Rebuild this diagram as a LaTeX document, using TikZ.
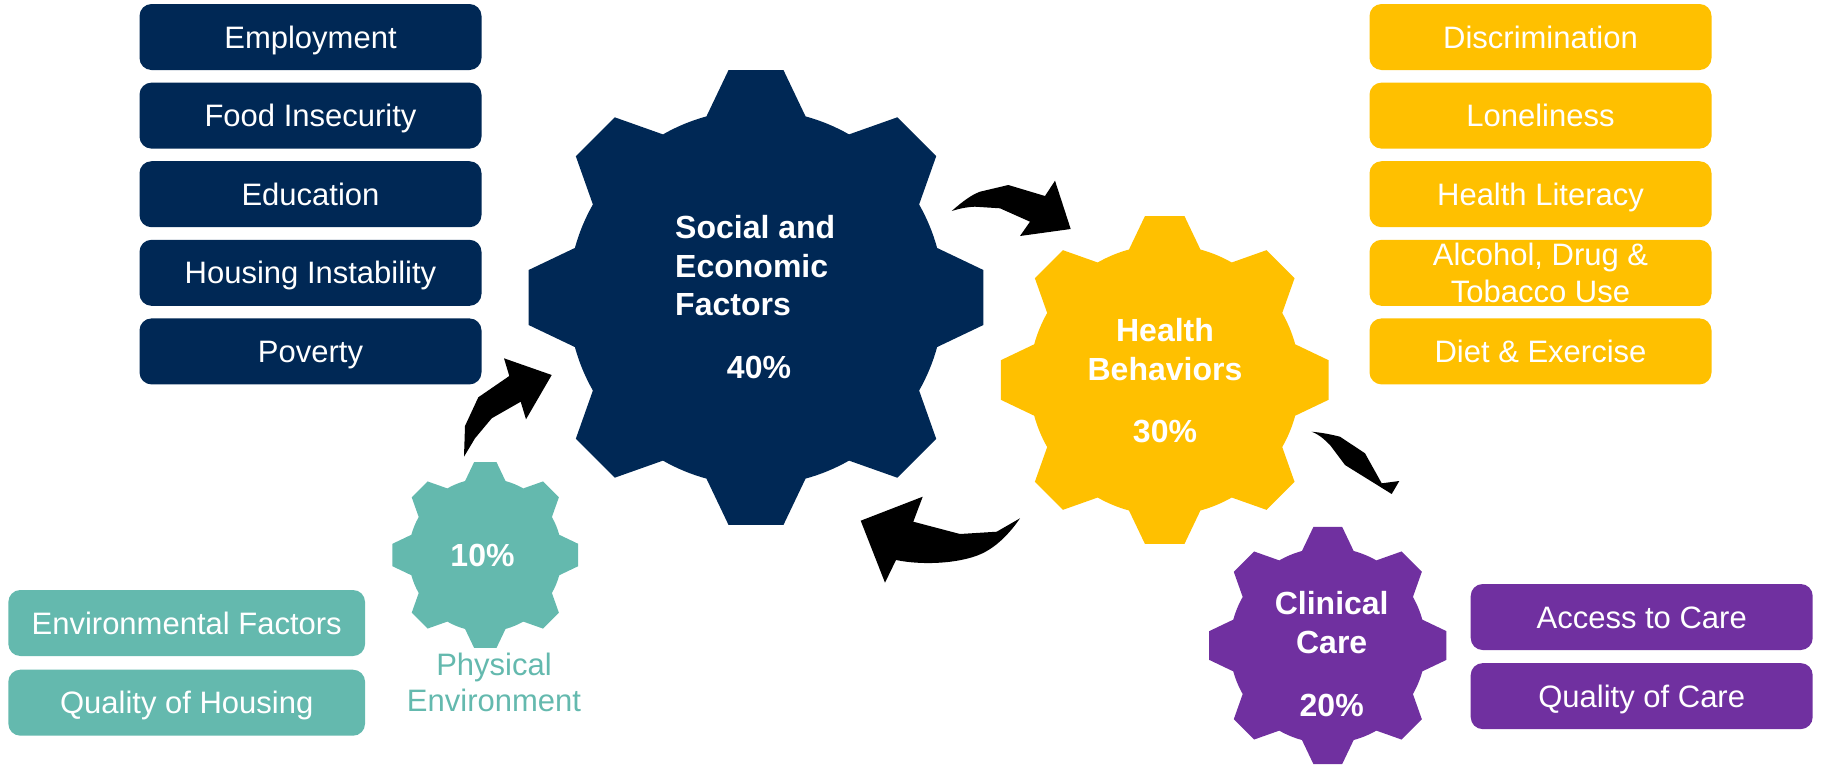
\documentclass[tikz,border=0pt]{standalone}
\usepackage{fontspec}
\setmainfont{Liberation Sans}
\usetikzlibrary{positioning}

\definecolor{sefnavy}{HTML}{002855}
\definecolor{hbgold}{HTML}{FFC000}
\definecolor{pheteal}{HTML}{64B9AE}
\definecolor{ccpurple}{HTML}{7030A0}

\tikzset{
  factor/.style={rounded corners=12pt, minimum width=342pt, minimum height=66pt,
    inner sep=0pt, text=white, align=center, text height=22pt, text depth=0pt,
    font=\fontsize{31}{36.7}\selectfont},
  geartext/.style={text=white, inner sep=0pt, font=\bfseries\fontsize{32}{38.5}\selectfont},
  bentarrow/.style={fill=black},
}

% eight-tooth cog: centre, tip radius, colour
\newcommand{\cog}[3]{%
  \pgfmathsetmacro{\rootr}{0.82*#2}
  \fill[#3, shift={(#1)}] (-15.3:\rootr)
    \foreach \a in {0,45,...,315}{
      -- (\a-15.3:\rootr) -- (\a-6.9:#2) -- (\a+6.9:#2) -- (\a+15.3:\rootr)
      arc[start angle=\a+15.3, end angle=\a+29.7, radius=\rootr]
    } -- cycle;
}

\begin{document}
\begin{tikzpicture}[x=1pt, y=-1pt]
  \useasboundingbox (0,0) rectangle (1823,764);

  % cogs
  \coordinate (soc) at (756,297.5);
  \coordinate (beh) at (1164.7,380);
  \coordinate (phy) at (485.3,555);
  \coordinate (cli) at (1327.8,645.5);
  \cog{soc}{229}{sefnavy}
  \cog{beh}{165}{hbgold}
  \cog{phy}{93.5}{pheteal}
  \cog{cli}{119.5}{ccpurple}

  % labels on the cogs (base = last line)
  \node[geartext, align=left, anchor=base west] (soctxt) at (675,315.7) {Social and\\Economic\\Factors};
  \node[geartext, anchor=base] (socpct) at (759,378.3) {40\%};
  \node[geartext, align=center, anchor=base] (behtxt) at (1165,380) {Health\\Behaviors};
  \node[geartext, anchor=base] (behpct) at (1165,442.7) {30\%};
  \node[geartext, anchor=base] (phypct) at (482.5,566.7) {10\%};
  \node[text=pheteal, inner sep=0pt, align=center, anchor=base,
        font=\fontsize{31}{36.7}\selectfont] (phytxt) at (494,711.7) {Physical\\Environment};
  \node[geartext, align=center, anchor=base] (clitxt) at (1331.7,653.3) {Clinical\\Care};
  \node[geartext, anchor=base] (clipct) at (1331.7,716.7) {20\%};

  % social and economic
  \node[factor, fill=sefnavy] (emp) at (310.5,37) {Employment};
  \node[factor, fill=sefnavy, below=12.2pt of emp] (food) {Food Insecurity};
  \node[factor, fill=sefnavy, below=12.2pt of food] (edu) {Education};
  \node[factor, fill=sefnavy, below=12.2pt of edu] (hous) {Housing Instability};
  \node[factor, fill=sefnavy, below=12.2pt of hous] (pov) {Poverty};

  % health behaviors
  \node[factor, fill=hbgold] (disc) at (1540.5,37) {Discrimination};
  \node[factor, fill=hbgold, below=12.2pt of disc] (lone) {Loneliness};
  \node[factor, fill=hbgold, below=12.2pt of lone] (lit) {Health Literacy};
  \node[factor, fill=hbgold, below=12.2pt of lit, text height=58.7pt] (alc) {Alcohol, Drug \&\\Tobacco Use};
  \node[factor, fill=hbgold, below=12.2pt of alc] (diet) {Diet \& Exercise};

  % physical environment
  \node[factor, fill=pheteal, minimum width=356.7pt] (envf) at (186.7,623) {Environmental Factors};
  \node[factor, fill=pheteal, minimum width=356.7pt, below=13.3pt of envf] (qhous) {Quality of Housing};

  % clinical care
  \node[factor, fill=ccpurple] (acc) at (1641.7,617) {Access to Care};
  \node[factor, fill=ccpurple, below=12.7pt of acc] (qcare) {Quality of Care};

  % curved arrows between the cogs
  \fill[bentarrow] (951.7,211) .. controls (962,202) and (971,195) .. (980,191.7)
    -- (1008.3,185) -- (1045,196) -- (1055,180.7) -- (1070.7,229) -- (1020,236)
    -- (1030,221.7) -- (1000,208.3) -- (975,206.7)
    .. controls (966,207) and (958,209) .. (951.7,211) -- cycle;
  \fill[bentarrow] (1020,518.3) -- (996.7,531.7) -- (960,534) -- (913.3,521.7)
    -- (922.7,496.7) -- (860.7,520.7) -- (885,582.7) -- (896,560)
    .. controls (925,566) and (965,563) .. (985,552)
    .. controls (1000,544) and (1012,530) .. (1020,518.3) -- cycle;
  \fill[bentarrow] (1311.7,431.7) .. controls (1325,433) and (1333,435) .. (1340,436.7)
    -- (1365,453.3) -- (1381.7,483.3) -- (1399.3,481) -- (1391.7,494)
    -- (1345,465) -- (1330,445)
    .. controls (1323,438) and (1318,434) .. (1311.7,431.7) -- cycle;
  \fill[bentarrow] (464,456.7) -- (465,426) -- (478.3,397.3) -- (509.3,376)
    -- (504,358.3) -- (551.7,375) -- (526,419.3) -- (520.7,401.7)
    -- (491.7,418.3) -- (475,438.3) -- cycle;
\end{tikzpicture}
\end{document}
